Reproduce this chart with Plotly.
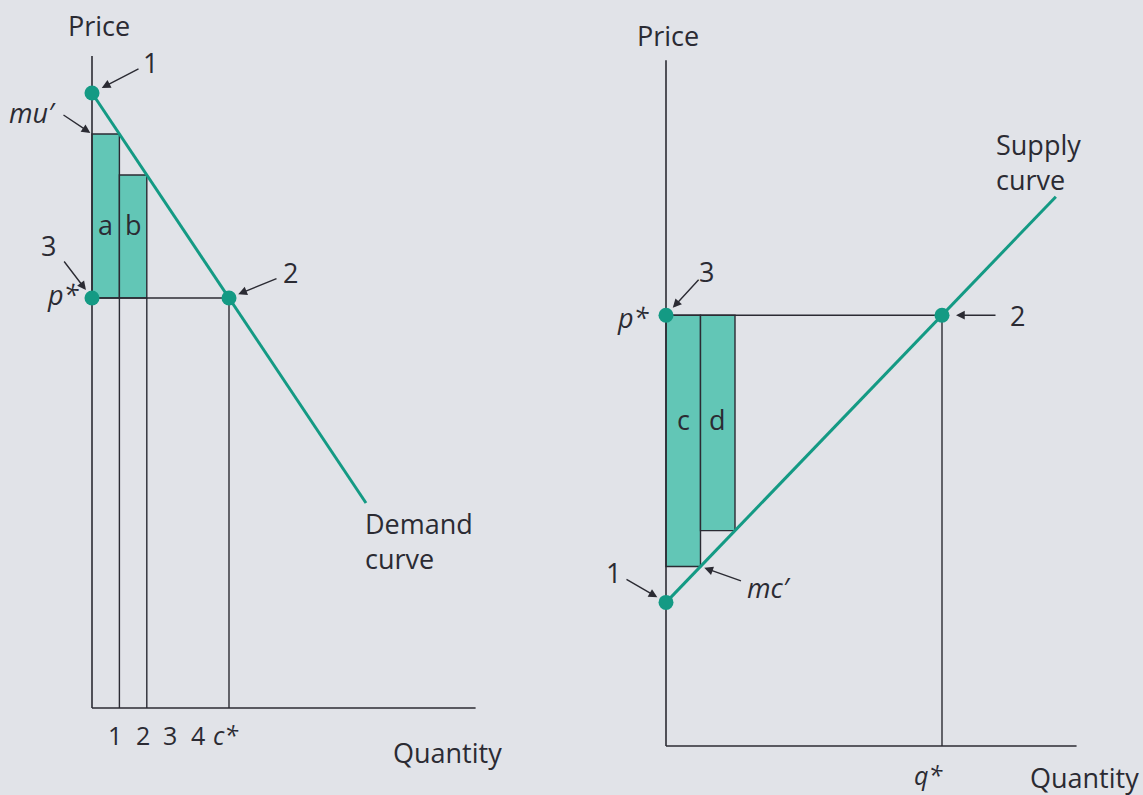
import plotly.graph_objects as go

# ---- Left panel: a consumer's demand curve ----
demand_intercept = 15          # price at which the first unit is bought
demand_slope = -1              # price falls by one per extra unit
demand_end_q = 10
unit_q = [1, 2]                # first and second unit consumed
marginal_utility = [14, 13]    # mu' of those units
p_star_demand = 10
c_star = 5
qty_ticks = [1, 2, 3, 4, 5]
qty_tick_text = ["1", "2", "3", "4", "<i>c*</i>"]
left_axis_top = 15.9
left_axis_end = 14

# ---- Right panel: a firm's supply curve ----
supply_intercept = 4
supply_slope = 1
supply_end_q = 11.3
marginal_cost = [5, 6]         # mc' of first and second unit
p_star_supply = 12
q_star = 8
right_axis_top = 19.1
right_axis_end = 11.9

# ---- styling / geometry ----
W, H = 1143, 795
BG = "#e1e3e8"
INK = "#2b2b33"
TEAL = "#149a84"
FILL = "#62c6b6"
FONT = "Open Sans"
FS = 27
TICK_FS = 25

# origin (px) and pixels per unit for each panel
L_X0, L_XS, L_Y0, L_YS = 92, 27.4, 708, 41.0
R_X0, R_XS, R_Y0, R_YS = 666, 34.5, 746, 35.9


def axis_range(origin, scale, span, flip=False):
    if flip:
        return [-(span - origin) / scale, origin / scale]
    return [-origin / scale, (span - origin) / scale]


fig = go.Figure()

# demand curve and points
dq = [0, demand_end_q]
dp = [demand_intercept + demand_slope * q for q in dq]
fig.add_trace(go.Scatter(x=dq, y=dp, mode="lines",
                         line=dict(color=TEAL, width=3), xaxis="x", yaxis="y",
                         hoverinfo="skip"))
fig.add_trace(go.Scatter(x=[0, 0, c_star],
                         y=[demand_intercept, p_star_demand, p_star_demand],
                         mode="markers", marker=dict(color=TEAL, size=15),
                         xaxis="x", yaxis="y", hoverinfo="skip"))

# supply curve and points
sq = [0, supply_end_q]
sp = [supply_intercept + supply_slope * q for q in sq]
fig.add_trace(go.Scatter(x=sq, y=sp, mode="lines",
                         line=dict(color=TEAL, width=3), xaxis="x2", yaxis="y2",
                         hoverinfo="skip"))
fig.add_trace(go.Scatter(x=[0, 0, q_star],
                         y=[p_star_supply, supply_intercept, p_star_supply],
                         mode="markers", marker=dict(color=TEAL, size=15),
                         xaxis="x2", yaxis="y2", hoverinfo="skip"))

shapes = []


def seg(x0, y0, x1, y1, ax, width=1.4):
    shapes.append(dict(type="line", x0=x0, y0=y0, x1=x1, y1=y1,
                       xref=ax[0], yref=ax[1], layer="below",
                       line=dict(color=INK, width=width)))


def bar(x0, x1, y0, y1, ax):
    shapes.append(dict(type="rect", x0=x0, x1=x1, y0=y0, y1=y1,
                       xref=ax[0], yref=ax[1], layer="below",
                       fillcolor=FILL, line=dict(color=INK, width=1.4)))


LA = ("x", "y")
RA = ("x2", "y2")

# left panel frame and guides
for q, mu in zip(unit_q, marginal_utility):
    bar(q - 1, q, p_star_demand, mu, LA)
seg(0, 0, 0, left_axis_top, LA, 1.6)
seg(0, 0, left_axis_end, 0, LA, 1.6)
seg(0, p_star_demand, c_star, p_star_demand, LA)
for q in unit_q:
    seg(q, 0, q, p_star_demand, LA)
seg(c_star, 0, c_star, p_star_demand, LA)

# right panel frame and guides
for q, mc in zip(unit_q, marginal_cost):
    bar(q - 1, q, mc, p_star_supply, RA)
seg(0, 0, 0, right_axis_top, RA, 1.6)
seg(0, 0, right_axis_end, 0, RA, 1.6)
seg(0, p_star_supply, q_star, p_star_supply, RA)
seg(q_star, 0, q_star, p_star_supply, RA)

annotations = []


def label(text, x, y, ax, xs=0, ys=0, xanchor="center", yanchor="middle",
          align="center", size=FS):
    annotations.append(dict(text=text, x=x, y=y, xref=ax[0], yref=ax[1],
                            xshift=xs, yshift=ys, showarrow=False,
                            xanchor=xanchor, yanchor=yanchor, align=align,
                            font=dict(family=FONT, size=size, color=INK)))


def pointer(x, y, ax, dx, dy, standoff):
    annotations.append(dict(text="", x=x, y=y, xref=ax[0], yref=ax[1],
                            ax=dx, ay=dy, showarrow=True, arrowhead=2,
                            arrowsize=1.25, arrowwidth=1.4, arrowcolor=INK,
                            standoff=standoff))


# left panel text
label("Price", 0, left_axis_top, LA, xs=7, ys=31)
label("1", 0, demand_intercept, LA, xs=58, ys=31)
pointer(0, demand_intercept, LA, 48, -25, 11)
label("<i>mu′</i>", 0, marginal_utility[0], LA, xs=-60, ys=22)
pointer(0, marginal_utility[0], LA, -30, -20, 2)
label("3", 0, p_star_demand, LA, xs=-44, ys=53)
pointer(0, p_star_demand, LA, -29, -38, 10)
label("<i>p*</i>", 0, p_star_demand, LA, xs=-29, ys=4)
label("2", c_star, p_star_demand, LA, xs=61, ys=26)
pointer(c_star, p_star_demand, LA, 49, -20, 10)
for q in unit_q:
    label("ab"[q - 1], q - 0.5, 11.8, LA)
label("Demand<br>curve", demand_end_q,
      demand_intercept + demand_slope * demand_end_q, LA,
      xs=-3, ys=-38, xanchor="left", align="left")
for q, t in zip(qty_ticks, qty_tick_text):
    label(t, q, 0, LA, xs=-4, ys=-27, size=TICK_FS)
label("Quantity", left_axis_end, 0, LA, xs=-28, ys=-44)

# right panel text
label("Price", 0, right_axis_top, RA, xs=2, ys=25)
label("3", 0, p_star_supply, RA, xs=40, ys=44)
pointer(0, p_star_supply, RA, 34, -37, 10)
label("<i>p*</i>", 0, p_star_supply, RA, xs=-33, ys=-2)
label("1", 0, supply_intercept, RA, xs=-53, ys=30)
pointer(0, supply_intercept, RA, -41, -24, 10)
label("<i>mc′</i>", unit_q[0], marginal_cost[0], RA, xs=68, ys=-21)
pointer(unit_q[0], marginal_cost[0], RA, 42, 15, 4)
label("2", q_star, p_star_supply, RA, xs=75, ys=0)
pointer(q_star, p_star_supply, RA, 55, 0, 14)
for q in unit_q:
    label("cd"[q - 1], q - 0.5, 9.1, RA)
label("Supply<br>curve", supply_end_q,
      supply_intercept + supply_slope * supply_end_q, RA,
      xs=-62, ys=35, xanchor="left", align="left")
label("<i>q*</i>", q_star, 0, RA, xs=-14, ys=-29, size=TICK_FS)
label("Quantity", right_axis_end, 0, RA, xs=8, ys=-31)

hidden = dict(visible=False, showgrid=False, zeroline=False, fixedrange=True)

fig.update_layout(
    width=W, height=H, autosize=False,
    margin=dict(l=0, r=0, t=0, b=0),
    paper_bgcolor=BG, plot_bgcolor=BG,
    showlegend=False,
    shapes=shapes, annotations=annotations,
    xaxis=dict(range=axis_range(L_X0, L_XS, W), domain=[0, 1], **hidden),
    yaxis=dict(range=axis_range(L_Y0, L_YS, H, flip=True), domain=[0, 1],
               **hidden),
    xaxis2=dict(range=axis_range(R_X0, R_XS, W), overlaying="x",
                anchor="y2", **hidden),
    yaxis2=dict(range=axis_range(R_Y0, R_YS, H, flip=True), overlaying="y",
                anchor="x2", **hidden),
)

fig.write_html("out.html")
